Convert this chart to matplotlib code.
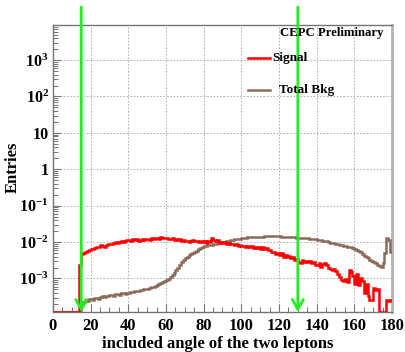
import numpy as np
import matplotlib
matplotlib.use('Agg')
import matplotlib.pyplot as plt
from matplotlib.ticker import FixedLocator, MultipleLocator, LogLocator, NullFormatter

plt.rcParams['font.family'] = 'Liberation Serif'
plt.rcParams['font.weight'] = 'bold'
plt.rcParams['mathtext.fontset'] = 'custom'
plt.rcParams['mathtext.rm'] = 'Liberation Serif:bold'
plt.rcParams['mathtext.bf'] = 'Liberation Serif:bold'
plt.rcParams['mathtext.it'] = 'Liberation Serif:bold'

# 直方图数据 (1 度一格, 0-180)
bin_edges = list(range(0, 181))

signal = [
    0, 0, 0, 0, 0, 0, 0, 0, 0, 0,
    0, 0, 0, 0, 2.3e-3, 4.6e-3, 5.0e-3, 5.3e-3, 5.6e-3, 6.0e-3,
    6.6e-3, 6.3e-3, 7.0e-3, 7.4e-3, 7.2e-3, 8.1e-3, 7.8e-3, 7.5e-3, 8.4e-3, 8.8e-3,
    9.0e-3, 8.6e-3, 9.5e-3, 9.9e-3, 9.4e-3, 1.02e-2, 1.07e-2, 1.0e-2, 1.1e-2, 1.14e-2,
    1.15e-2, 1.08e-2, 1.18e-2, 1.12e-2, 1.22e-2, 1.1e-2, 1.17e-2, 1.25e-2, 1.13e-2, 1.2e-2,
    1.23e-2, 1.16e-2, 1.27e-2, 1.2e-2, 1.3e-2, 1.33e-2, 1.25e-2, 1.35e-2, 1.3e-2, 1.28e-2,
    1.32e-2, 1.24e-2, 1.2e-2, 1.26e-2, 1.15e-2, 1.18e-2, 1.12e-2, 1.2e-2, 1.08e-2, 1.14e-2,
    1.07e-2, 1.1e-2, 1.02e-2, 1.08e-2, 1.12e-2, 1.04e-2, 1.06e-2, 9.8e-3, 1.05e-2, 1.0e-2,
    1.04e-2, 9.7e-3, 1.08e-2, 1.0e-2, 1.28e-2, 1.15e-2, 1.05e-2, 1.12e-2, 9.6e-3, 1.0e-2,
    9.3e-3, 9.8e-3, 8.9e-3, 9.4e-3, 8.6e-3, 9.0e-3, 8.2e-3, 8.8e-3, 7.9e-3, 8.3e-3,
    7.6e-3, 8.0e-3, 7.4e-3, 7.9e-3, 7.2e-3, 7.6e-3, 7.0e-3, 7.3e-3, 6.7e-3, 7.1e-3,
    6.6e-3, 7.4e-3, 6.4e-3, 6.9e-3, 6.0e-3, 5.9e-3, 5.5e-3, 5.2e-3, 4.8e-3, 5.0e-3,
    4.3e-3, 4.9e-3, 3.8e-3, 4.5e-3, 3.9e-3, 4.2e-3, 3.6e-3, 3.8e-3, 3.3e-3, 3.5e-3,
    2.8e-3, 2.6e-3, 3.2e-3, 2.9e-3, 3.1e-3, 2.8e-3, 3.0e-3, 2.6e-3, 2.8e-3, 2.4e-3,
    2.3e-3, 2.6e-3, 2.1e-3, 2.5e-3, 2.7e-3, 2.4e-3, 2.0e-3, 1.8e-3, 1.7e-3, 1.8e-3,
    1.6e-3, 1.3e-3, 1.1e-3, 9.0e-4, 8.5e-4, 9.5e-4, 8.0e-4, 1.7e-3, 1.5e-3, 1.2e-3,
    7.0e-4, 1.3e-3, 6.5e-4, 1.0e-3, 8.5e-4, 4.0e-4, 7.0e-4, 3.2e-4, 2.5e-4, 2.6e-4,
    5.5e-4, 4.8e-4, 5.2e-4, 0, 0, 0, 0, 2.5e-4, 2.4e-4, 2.6e-4,
]

total_bkg = [
    0, 0, 0, 0, 0, 0, 0, 0, 0, 0,
    0, 0, 0, 0, 0, 1.9e-4, 2.2e-4, 2.5e-4, 2.4e-4, 2.7e-4,
    2.8e-4, 2.6e-4, 2.9e-4, 3.0e-4, 2.8e-4, 3.1e-4, 3.3e-4, 3.1e-4, 3.4e-4, 3.2e-4,
    3.5e-4, 3.6e-4, 3.4e-4, 3.7e-4, 3.8e-4, 3.6e-4, 3.9e-4, 4.0e-4, 3.8e-4, 4.1e-4,
    4.1e-4, 4.3e-4, 4.2e-4, 4.4e-4, 4.6e-4, 4.5e-4, 4.8e-4, 4.9e-4, 5.0e-4, 5.2e-4,
    5.3e-4, 5.5e-4, 5.7e-4, 5.9e-4, 6.2e-4, 6.6e-4, 7.0e-4, 7.4e-4, 7.9e-4, 8.4e-4,
    9.0e-4, 9.8e-4, 1.1e-3, 1.25e-3, 1.45e-3, 1.7e-3, 2.0e-3, 2.4e-3, 2.8e-3, 3.2e-3,
    3.6e-3, 4.0e-3, 4.4e-3, 4.7e-3, 5.0e-3, 5.3e-3, 5.8e-3, 6.3e-3, 6.8e-3, 7.3e-3,
    7.7e-3, 8.0e-3, 8.2e-3, 8.4e-3, 8.5e-3, 8.7e-3, 9.0e-3, 9.3e-3, 9.6e-3, 9.8e-3,
    1.0e-2, 1.03e-2, 1.06e-2, 1.09e-2, 1.12e-2, 1.15e-2, 1.18e-2, 1.2e-2, 1.23e-2, 1.25e-2,
    1.28e-2, 1.3e-2, 1.32e-2, 1.34e-2, 1.36e-2, 1.37e-2, 1.38e-2, 1.39e-2, 1.4e-2, 1.41e-2,
    1.42e-2, 1.42e-2, 1.43e-2, 1.43e-2, 1.44e-2, 1.44e-2, 1.44e-2, 1.44e-2, 1.43e-2, 1.43e-2,
    1.43e-2, 1.42e-2, 1.41e-2, 1.41e-2, 1.4e-2, 1.39e-2, 1.38e-2, 1.36e-2, 1.35e-2, 1.33e-2,
    1.32e-2, 1.31e-2, 1.3e-2, 1.29e-2, 1.27e-2, 1.26e-2, 1.24e-2, 1.22e-2, 1.2e-2, 1.18e-2,
    1.16e-2, 1.14e-2, 1.12e-2, 1.1e-2, 1.07e-2, 1.04e-2, 1.01e-2, 9.7e-3, 9.4e-3, 9.2e-3,
    9.0e-3, 8.7e-3, 8.5e-3, 8.2e-3, 8.0e-3, 7.8e-3, 7.5e-3, 7.3e-3, 7.1e-3, 6.8e-3,
    6.6e-3, 6.2e-3, 5.8e-3, 5.3e-3, 4.6e-3, 4.2e-3, 3.9e-3, 3.6e-3, 3.3e-3, 3.0e-3,
    2.8e-3, 2.6e-3, 2.4e-3, 2.2e-3, 2.1e-3, 2.6e-3, 5.0e-3, 1.3e-2, 1.15e-2, 5.4e-3,
]

cut_values = [15, 130]
y_ticks = [1e-3, 1e-2, 1e-1, 1, 10, 1e2, 1e3]
y_tick_labels = [r'$10^{-3}$', r'$10^{-2}$', r'$10^{-1}$', '1', '10', r'$10^{2}$', r'$10^{3}$']
x_ticks = [0, 20, 40, 60, 80, 100, 120, 140, 160, 180]

ymin, ymax = 1.2e-4, 9.2e3
W, H = 406, 352

fig = plt.figure(figsize=(W / 100, H / 100), dpi=100)
ax = fig.add_axes([53 / W, 1 - 312 / H, 339 / W, 287 / H])
ax.set_yscale('log')
ax.set_xlim(0, 180)
ax.set_ylim(ymin, ymax)

# 零内容的格子画在最底部 (ROOT 风格)
sig = np.array(signal, dtype=float)
bkg = np.array(total_bkg, dtype=float)
sig = np.where(sig > 0, sig, ymin)
bkg = np.where(bkg > 0, bkg, ymin)

ax.stairs(bkg, bin_edges, color='#8b6b5b', lw=1.8, baseline=None, zorder=3)
ax.stairs(sig, bin_edges, color='#ff0000', lw=1.8, baseline=None, zorder=4)

# 网格
ax.set_xticks(x_ticks)
ax.xaxis.set_minor_locator(MultipleLocator(5))
ax.yaxis.set_major_locator(FixedLocator(y_ticks))
ax.set_yticklabels(y_tick_labels)
ax.yaxis.set_minor_locator(LogLocator(base=10, subs=np.arange(2, 10)))
ax.yaxis.set_minor_formatter(NullFormatter())
ax.grid(True, which='major', color='0.65', linestyle=(0, (2, 2)), lw=0.6)

ax.tick_params(which='both', direction='in', top=False, right=False, color='0.45')
ax.tick_params(which='major', length=6, width=0.8)
ax.tick_params(which='minor', length=3.5, width=0.7)
ax.tick_params(axis='x', pad=4, labelsize=12)
ax.tick_params(axis='y', pad=3, labelsize=11.5)

for side in ['left', 'bottom', 'top']:
    ax.spines[side].set_color('0.45')
    ax.spines[side].set_linewidth(1.0)
ax.spines['right'].set_color('0.7')
ax.spines['right'].set_linewidth(2.0)

# 选择条件 (绿色箭头)
for cv in cut_values:
    ax.annotate('', xy=(cv, 0), xycoords=ax.get_xaxis_transform(),
                xytext=(cv, (312 - 7) / 287), textcoords=ax.get_xaxis_transform(),
                arrowprops=dict(arrowstyle='->,head_length=0.35,head_width=0.2',
                                color='#22ee22', lw=2.0, shrinkA=0, shrinkB=0,
                                mutation_scale=20),
                annotation_clip=False, zorder=5)

# 图例
def fx(px):
    return px / W

def fy(py):
    return 1 - py / H

fig.text(fx(280), fy(33), 'CEPC Preliminary', fontsize=9.2, va='center', ha='left')
fig.add_artist(plt.Line2D([fx(248), fx(270)], [fy(58), fy(58)], color='#ff0000', lw=1.8))
fig.text(fx(272), fy(58), 'Signal', fontsize=9.5, va='center', ha='left')
fig.add_artist(plt.Line2D([fx(248), fx(270)], [fy(90), fy(90)], color='#8b6b5b', lw=1.8))
fig.text(fx(279), fy(90), 'Total Bkg', fontsize=9.5, va='center', ha='left')

fig.text(fx(218), fy(344), 'included angle of the two leptons', fontsize=12,
         ha='center', va='center')
fig.text(fx(13), fy(167), 'Entries', fontsize=12, rotation=90, ha='center', va='center')

fig.savefig('out.png', dpi=100)
